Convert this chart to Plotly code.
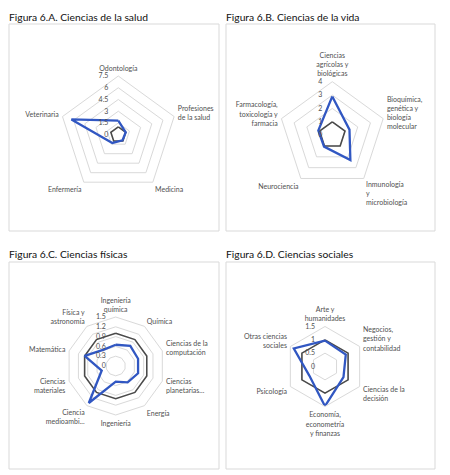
import plotly.graph_objects as go

W, H = 450, 475

# ---- data ----
cats_a = ["Odontología", "Profesiones<br>de la salud", "Medicina", "Enfermería", "Veterinaria"]
pais_a = [1.8, 1.0, 0.9, 1.3, 6.3]
ref_a = [1, 1, 1, 1, 1]
ticks_a = [0, 1.5, 3, 4.5, 6, 7.5]

cats_b = ["Ciencias<br>agrícolas y<br>biológicas", "Bioquímica,<br>genética y<br>biología<br>molecular",
          "Inmunología<br>y<br>microbiología", "Neurociencia", "Farmacología,<br>toxicología y<br>farmacia"]
pais_b = [2.9, 1.35, 2.3, 1.05, 1.1]
ref_b = [1, 1, 1, 1, 1]
ticks_b = [0, 1, 2, 3, 4]

cats_c = ["Ingeniería<br>química", "Química", "Ciencias de la<br>computación", "Ciencias<br>planetarias...",
          "Energía", "Ingeniería", "Ciencia<br>medioambi...", "Ciencias<br>materiales", "Matemática",
          "Física y<br>astronomía"]
pais_c = [0.65, 0.76, 0.72, 0.72, 0.62, 0.48, 1.4, 0.45, 1.0, 0.62]
ref_c = [1] * 10
ticks_c = [0, 0.3, 0.6, 0.9, 1.2, 1.5]

cats_d = ["Arte y<br>humanidades", "Negocios,<br>gestión y<br>contabilidad", "Ciencias de la<br>decisión",
          "Economía,<br>econometría<br>y finanzas", "Psicología", "Otras ciencias<br>sociales"]
pais_d = [0.97, 0.9, 0.8, 1.49, 0.68, 1.35]
ref_d = [1] * 6
ticks_d = [0, 0.5, 1, 1.5]

titles = ["Figura 6.A. Ciencias de la salud", "Figura 6.B. Ciencias de la vida",
          "Figura 6.C. Ciencias físicas", "Figura 6.D. Ciencias sociales"]

BLUE = "#3157c2"
DARK = "#4a4a4a"
GRID = "#d9d9d9"
LBL = "#505050"
FONT = "Lato"
FS = "\u2007"  # figure space: right-aligns radial labels

panels = [
    (cats_a, pais_a, ref_a, ticks_a, (118.3, 134.7, 58.7)),
    (cats_b, pais_b, ref_b, ticks_b, (332.3, 135.2, 53.5)),
    (cats_c, pais_c, ref_c, ticks_c, (115.7, 366.0, 49.0)),
    (cats_d, pais_d, ref_d, ticks_d, (325.0, 366.5, 40.0)),
]


def tick_text(v):
    s = f"{v:g}"
    return FS * (3 - len(s)) + s


fig = go.Figure()
layout = {}
for i, (cats, pais, ref, ticks, (cx, cy, R)) in enumerate(panels):
    pname = "polar" if i == 0 else f"polar{i+1}"
    th = cats + [cats[0]]
    fig.add_trace(go.Scatterpolar(r=ref + [ref[0]], theta=th, mode="lines",
                                  line=dict(color=DARK, width=1.6), subplot=pname,
                                  showlegend=False, hoverinfo="skip"))
    fig.add_trace(go.Scatterpolar(r=pais + [pais[0]], theta=th, mode="lines",
                                  line=dict(color=BLUE, width=2.3), subplot=pname,
                                  showlegend=False))
    layout[pname] = dict(
        domain=dict(x=[(cx - R) / W, (cx + R) / W], y=[1 - (cy + R) / H, 1 - (cy - R) / H]),
        gridshape="linear",
        bgcolor="white",
        angularaxis=dict(type="category", categoryarray=cats, direction="clockwise", rotation=90,
                         showgrid=False, showline=True, linecolor=GRID, linewidth=1,
                         ticks="outside", ticklen=2, tickcolor="rgba(0,0,0,0)",
                         tickfont=dict(family=FONT, size=7, color=LBL)),
        radialaxis=dict(range=[ticks[0], ticks[-1]], tickvals=ticks,
                        ticktext=[tick_text(v) for v in ticks], angle=90, tickangle=90,
                        side="counterclockwise", showline=False, ticks="outside", ticklen=7,
                        tickcolor="rgba(0,0,0,0)", gridcolor=GRID,
                        gridwidth=1, tickfont=dict(family=FONT, size=7, color=LBL)),
    )

boxes = [(9, 24, 219, 231), (226, 24, 435, 231), (9, 262, 219, 469), (226, 262, 435, 469)]
shapes = []
annotations = []
for (x0, y0, x1, y1), t in zip(boxes, titles):
    shapes.append(dict(type="rect", xref="paper", yref="paper", x0=x0 / W, x1=x1 / W,
                       y0=1 - y1 / H, y1=1 - y0 / H, line=dict(color=GRID, width=1),
                       layer="below"))
    annotations.append(dict(text=t, xref="paper", yref="paper", x=(x0 - 2) / W, y=1 - (y0 - 7.5) / H,
                            xanchor="left", yanchor="middle", showarrow=False,
                            font=dict(family=FONT, size=10.3, color="#111111")))

fig.update_layout(width=W, height=H, margin=dict(l=0, r=0, t=0, b=0),
                  paper_bgcolor="white", plot_bgcolor="white",
                  shapes=shapes, annotations=annotations, **layout)
fig.write_html("out.html")
